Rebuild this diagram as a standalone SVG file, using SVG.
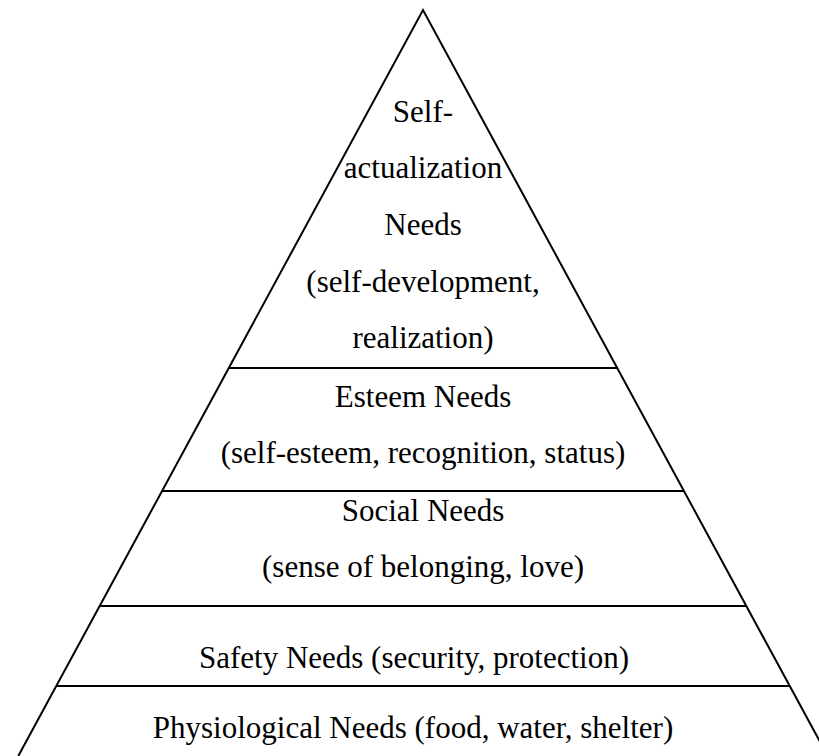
<svg xmlns="http://www.w3.org/2000/svg" width="819" height="756" viewBox="0 0 819 756">
  <style>
    .edge { fill: none; stroke: #000; stroke-width: 2; }
    .label { font-family: "Liberation Serif", "Times New Roman", serif; font-size: 31px; fill: #000; text-anchor: middle; }
  </style>
  <rect width="819" height="756" fill="#fff"/>
  <!-- outline of the pyramid (base runs past the bottom edge) -->
  <g id="outline">
    <polyline class="edge" points="18.3,756 423,10 827.7,756"/>
  </g>
  <!-- tier dividers -->
  <g id="connectors">
    <line class="edge" x1="228.8" y1="368" x2="617.2" y2="368"/>
    <line class="edge" x1="162" y1="491" x2="684" y2="491"/>
    <line class="edge" x1="99.7" y1="606" x2="746.3" y2="606"/>
    <line class="edge" x1="56.3" y1="686" x2="789.7" y2="686"/>
  </g>
  <g id="self-actualization">
    <text class="label" x="423" y="122">Self-</text>
    <text class="label" x="423" y="178">actualization</text>
    <text class="label" x="423" y="235">Needs</text>
    <text class="label" x="423" y="292">(self-development,</text>
    <text class="label" x="423" y="348">realization)</text>
  </g>
  <g id="esteem">
    <text class="label" x="423" y="407">Esteem Needs</text>
    <text class="label" x="423" y="463">(self-esteem, recognition, status)</text>
  </g>
  <g id="social">
    <text class="label" x="423" y="521">Social Needs</text>
    <text class="label" x="423" y="577">(sense of belonging, love)</text>
  </g>
  <g id="safety">
    <text class="label" x="414" y="668">Safety Needs (security, protection)</text>
  </g>
  <g id="physiological">
    <text class="label" x="413" y="738">Physiological Needs (food, water, shelter)</text>
  </g>
</svg>
